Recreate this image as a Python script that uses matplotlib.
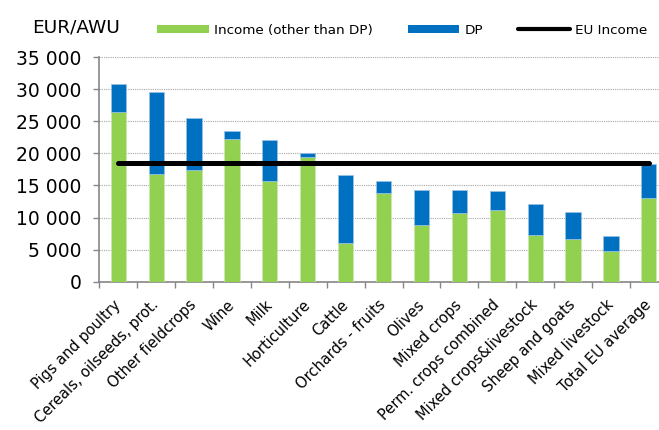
import numpy as np
import matplotlib
matplotlib.use("Agg")
import matplotlib.pyplot as plt
from matplotlib.patches import Patch
from matplotlib.lines import Line2D

# === data ===
categories = ['Pigs and poultry', 'Cereals, oilseeds, prot.', 'Other fieldcrops', 'Wine',
              'Milk', 'Horticulture', 'Cattle', 'Orchards - fruits', 'Olives', 'Mixed crops',
              'Perm. crops combined', 'Mixed crops&livestock', 'Sheep and goats',
              'Mixed livestock', 'Total EU average']
income_other = [26500, 16800, 17400, 22200, 15750, 19450, 6100, 13850, 8800, 10700,
                11250, 7300, 6650, 4800, 13100]
dp = [4300, 12750, 8050, 1250, 6300, 550, 10600, 1850, 5450, 3550,
      2850, 4750, 4200, 2300, 5300]
eu_income = 18450

yticks = [0, 5000, 10000, 15000, 20000, 25000, 30000, 35000]
ytick_labels = ['0', '5 000', '10 000', '15 000', '20 000', '25 000', '30 000', '35 000']

green = '#92D050'
blue = '#0070C0'
grey = '#868686'

# === figure ===
fig = plt.figure(figsize=(6.59, 4.30), dpi=100)
ax = fig.add_axes([99.3 / 659, 1 - 281.7 / 430, 568.5 / 659, 224.5 / 430])

x = np.arange(len(categories))
ax.bar(x, income_other, width=0.4, color=green, edgecolor='#cfe8b0', linewidth=0.5, zorder=3)
ax.bar(x, dp, width=0.4, bottom=income_other, color=blue, edgecolor='#9dc3e6',
       linewidth=0.5, zorder=3)
ax.plot([x[0], x[-1]], [eu_income, eu_income], color='black', lw=3.6,
        solid_capstyle='round', zorder=4)

ax.set_xlim(-0.5, len(categories) - 0.5)
ax.set_ylim(0, 35000)

ax.set_yticks(yticks)
ax.set_yticklabels(ytick_labels, fontsize=13.5)
ax.yaxis.grid(True, color='#a6a6a6', linestyle=(0, (1, 1)), linewidth=0.8, zorder=0)
ax.tick_params(axis='y', length=4.3, width=1, color=grey, pad=8.5, direction='out')

# boundary ticks (major) and centred labels (minor)
ax.set_xticks(np.arange(-0.5, len(categories), 1.0))
ax.set_xticklabels([])
ax.set_xticks(x, minor=True)
ax.set_xticklabels(categories, minor=True, rotation=45, ha='right', va='center',
                   rotation_mode='anchor', fontsize=10.5)
ax.tick_params(axis='x', which='major', length=4, width=1, color=grey, direction='out')
ax.tick_params(axis='x', which='minor', length=0, pad=15)

for side in ['top', 'right']:
    ax.spines[side].set_visible(False)
for side in ['left', 'bottom']:
    ax.spines[side].set_color(grey)
    ax.spines[side].set_linewidth(1.2)

fig.text(31.7 / 659, 1 - 32.7 / 430, 'EUR/AWU', fontsize=13.3, ha='left', va='baseline')

handles = [Patch(facecolor=green, edgecolor='none'),
           Patch(facecolor=blue, edgecolor='none'),
           Line2D([0], [0], color='black', lw=3, solid_capstyle='round')]
labels = ['Income (other than DP)', 'DP', 'EU Income']
fig.legend(handles, labels, loc='center left', bbox_to_anchor=(157 / 659, 1 - 30.2 / 430),
           ncol=3, frameon=False, fontsize=9.7, borderpad=0, borderaxespad=0,
           handlelength=3.85, handleheight=0.52, handletextpad=0.39, columnspacing=2.57)

plt.savefig('out.png', dpi=100)
